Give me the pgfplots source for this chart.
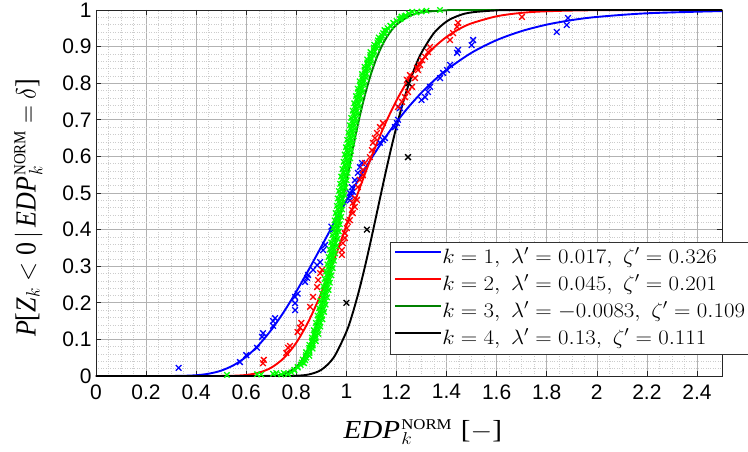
\documentclass[border=0pt]{standalone}
\usepackage{graphicx}
\usepackage{fontspec}
\usepackage{pgfplots}
\pgfplotsset{compat=1.18}
\newfontfamily\ticksf{Liberation Sans}
\newfontfamily\tms{Liberation Serif}
\newcommand{\sNORM}{\mbox{\tms\fontsize{15}{15}\selectfont NORM}}
\definecolor{dgreen}{rgb}{0,0.5,0}
\definecolor{lgreen}{rgb}{0,1,0}
\begin{document}
\begin{tikzpicture}
\begin{axis}[
  at={(96pt,76pt)}, anchor=south west,
  scale only axis, width=626pt, height=366pt,
  xmin=0, xmax=2.5, ymin=0, ymax=1,
  xtick={0,0.2,0.4,0.6,0.8,1,1.2,1.4,1.6,1.8,2,2.2,2.4},
  ytick={0,0.1,0.2,0.3,0.4,0.5,0.6,0.7,0.8,0.9,1},
  minor x tick num=3, minor y tick num=4,
  grid=both,
  major grid style={gray!60, line width=0.6pt},
  minor grid style={gray!40, dotted, line width=0.5pt},
  tick align=inside, major tick length=5pt, minor tick length=0pt,
  tick style={black!85, line width=0.6pt},
  axis line style={black!85, line width=0.9pt},
  /pgf/number format/assume math mode=true,
  /pgf/number format/fixed,
  tick label style={font=\fontsize{21}{22}\ticksf},
  xticklabel style={yshift=-5pt},
  yticklabel style={xshift=-1pt},
  clip=false,
  xlabel={\scalebox{1.12}[1]{\tms\textit{EDP}\kern1pt$^{\sNORM}_{k}$\hspace{0.3em}[$-$]}},
  ylabel={\scalebox{1}[1.12]{\tms\textit{P}[\textit{Z}$_{k}$ $<$ 0\,$|$\,\textit{EDP}\kern1pt$^{\sNORM}_{k}$ $=$ $\delta$]}},
  label style={font=\fontsize{26}{28}\selectfont},
  xlabel style={at={(axis description cs:0.522,-0.152)}, anchor=center},
  ylabel style={at={(axis description cs:-0.108,0.459)}, anchor=center},
  legend style={at={(0.4696,0.3661)}, anchor=north west, draw=black!80, line width=0.8pt, fill=white,
    inner xsep=4pt, inner ysep=2pt, font=\fontsize{21}{25}\selectfont,
    nodes={inner sep=0pt, text height=19pt, text depth=8pt},
    /tikz/every even column/.append style={column sep=5pt}},
  legend cell align=left,
  legend image code/.code={\draw[#1, line width=1.9pt] (0pt,6pt) -- (46pt,6pt);},
]
% ---- scatter (empirical) ----
\addplot[only marks, mark=x, mark size=4pt, color=blue, mark options={line width=1.3pt}, forget plot] coordinates {
(0.33,0.022)(0.575,0.038)(0.60,0.057)(0.643,0.077)(0.663,0.107)(0.667,0.117)(0.707,0.137)(0.707,0.15)(0.715,0.158)
(0.795,0.18)(0.795,0.199)(0.795,0.216)(0.805,0.225)(0.835,0.257)(0.843,0.268)(0.847,0.276)(0.867,0.29)(0.883,0.303)
(0.895,0.311)(0.907,0.344)(0.915,0.358)(0.94,0.408)(0.947,0.40)(1.014,0.48)(1.022,0.494)(1.026,0.503)(1.014,0.5)
(1.022,0.516)(1.034,0.535)(1.046,0.555)(1.054,0.571)(1.062,0.582)(1.134,0.637)(1.146,0.645)(1.154,0.65)(1.194,0.68)
(1.202,0.691)(1.206,0.70)(1.214,0.732)(1.30,0.754)(1.314,0.762)(1.326,0.776)(1.334,0.79)(1.374,0.814)(1.386,0.828)
(1.402,0.836)(1.414,0.85)(1.442,0.883)(1.446,0.891)(1.50,0.904)(1.506,0.918)(1.84,0.94)(1.88,0.959)(1.885,0.978)
};
\addplot[only marks, mark=x, mark size=4pt, color=red, mark options={line width=1.3pt}, forget plot] coordinates {
(0.667,0.035)(0.67,0.044)(0.76,0.063)(0.767,0.077)(0.775,0.082)(0.805,0.12)(0.815,0.132)(0.82,0.145)(0.855,0.189)(0.867,0.216)
(0.883,0.243)(0.887,0.262)(0.895,0.281)(0.903,0.29)(0.982,0.331)(0.982,0.344)(0.986,0.363)(0.994,0.377)(0.994,0.39)
(1.002,0.404)(1.006,0.421)(1.014,0.426)(1.022,0.454)(1.026,0.445)(1.026,0.473)(1.034,0.462)(1.034,0.486)(1.042,0.481)
(1.046,0.516)(1.054,0.536)(1.066,0.549)(1.066,0.563)(1.074,0.582)(1.094,0.598)(1.102,0.617)(1.106,0.637)(1.114,0.65)
(1.122,0.664)(1.134,0.68)(1.146,0.691)(1.206,0.735)(1.222,0.749)(1.234,0.762)(1.246,0.776)(1.262,0.79)(1.242,0.809)
(1.274,0.814)(1.254,0.822)(1.286,0.836)(1.282,0.842)(1.294,0.85)(1.302,0.863)(1.314,0.872)(1.326,0.885)(1.334,0.899)
(1.414,0.918)(1.426,0.937)(1.442,0.954)(1.446,0.965)(1.701,0.981)
};
\addplot[only marks, mark=x, mark size=3.8pt, color=lgreen, mark options={line width=1.3pt}, forget plot] coordinates {
(0.523,0.003)(0.643,0.005)(0.66,0.004)(0.707,0.006)(0.72,0.008)(0.74,0.004)(0.75,0.008)
(0.767,0.005)(0.780,0.010)(0.793,0.015)
(0.805,0.025)(0.818,0.03)(0.831,0.035)
(0.826,0.045)(0.839,0.05)(0.852,0.055)
(0.839,0.065)(0.852,0.07)(0.865,0.075)
(0.852,0.085)(0.865,0.09)(0.878,0.095)
(0.862,0.105)(0.875,0.11)(0.888,0.115)
(0.870,0.125)(0.883,0.13)(0.896,0.135)
(0.878,0.145)(0.891,0.15)(0.904,0.155)
(0.885,0.165)(0.898,0.17)(0.911,0.175)
(0.891,0.185)(0.904,0.19)(0.917,0.195)
(0.897,0.205)(0.910,0.21)(0.923,0.215)
(0.903,0.225)(0.916,0.23)(0.929,0.235)
(0.908,0.245)(0.921,0.25)(0.934,0.255)
(0.914,0.265)(0.927,0.27)(0.940,0.275)
(0.919,0.285)(0.932,0.29)(0.945,0.295)
(0.924,0.305)(0.937,0.31)(0.950,0.315)
(0.929,0.325)(0.942,0.33)(0.955,0.335)
(0.934,0.345)(0.947,0.35)(0.960,0.355)
(0.939,0.365)(0.952,0.37)(0.965,0.375)
(0.944,0.385)(0.957,0.39)(0.970,0.395)
(0.948,0.405)(0.961,0.41)(0.974,0.415)
(0.953,0.425)(0.966,0.43)(0.979,0.435)
(0.957,0.445)(0.970,0.45)(0.983,0.455)
(0.962,0.465)(0.975,0.47)(0.988,0.475)
(0.966,0.485)(0.979,0.49)(0.992,0.495)
(0.970,0.505)(0.983,0.51)(0.996,0.515)
(0.975,0.525)(0.988,0.53)(1.001,0.535)
(0.979,0.545)(0.992,0.55)(1.005,0.555)
(0.984,0.565)(0.997,0.57)(1.010,0.575)
(0.989,0.585)(1.002,0.59)(1.015,0.595)
(0.993,0.605)(1.006,0.61)(1.019,0.615)
(0.998,0.625)(1.011,0.63)(1.024,0.635)
(1.003,0.645)(1.016,0.65)(1.029,0.655)
(1.008,0.665)(1.021,0.67)(1.034,0.675)
(1.014,0.685)(1.027,0.69)(1.040,0.695)
(1.019,0.705)(1.032,0.71)(1.045,0.715)
(1.025,0.725)(1.038,0.73)(1.051,0.735)
(1.031,0.745)(1.044,0.75)(1.057,0.755)
(1.038,0.765)(1.051,0.77)(1.064,0.775)
(1.045,0.785)(1.058,0.79)(1.071,0.795)
(1.053,0.805)(1.066,0.81)(1.079,0.815)
(1.062,0.825)(1.075,0.83)(1.088,0.835)
(1.072,0.845)(1.085,0.85)(1.098,0.855)
(1.083,0.865)(1.096,0.87)(1.109,0.875)
(1.096,0.885)(1.109,0.89)(1.122,0.895)
(1.111,0.905)(1.124,0.91)(1.137,0.915)
(1.129,0.925)(1.142,0.93)(1.155,0.935)
(1.152,0.945)(1.165,0.95)(1.178,0.955)
(1.187,0.965)(1.200,0.97)(1.213,0.975)
(1.237,0.985)(1.250,0.99)(1.263,0.995)
(1.22,0.982)(1.28,0.993)(1.30,0.996)(1.32,0.998)(1.374,1.0)
(0.792,0.017)(0.806,0.023)(0.8215,0.037)(0.8355,0.043)(0.8385,0.057)(0.8525,0.063)(0.8515,0.077)(0.8655,0.083)
(0.863,0.097)(0.877,0.103)(0.872,0.117)(0.886,0.123)(0.880,0.137)(0.894,0.143)(0.8875,0.157)(0.9015,0.163)
(0.894,0.177)(0.908,0.183)(0.900,0.197)(0.914,0.203)(0.906,0.217)(0.920,0.223)(0.9115,0.237)(0.9255,0.243)
(0.917,0.257)(0.931,0.263)(0.9225,0.277)(0.9365,0.283)(0.9275,0.297)(0.9415,0.303)(0.9325,0.317)(0.9465,0.323)
(0.9375,0.337)(0.9515,0.343)(0.9425,0.357)(0.9565,0.363)(0.9475,0.377)(0.9615,0.383)(0.952,0.397)(0.966,0.403)
(0.9565,0.417)(0.9705,0.423)(0.961,0.437)(0.975,0.443)(0.9655,0.457)(0.9795,0.463)(0.970,0.477)(0.984,0.483)
(0.974,0.497)(0.988,0.503)(0.9785,0.517)(0.9925,0.523)(0.983,0.537)(0.997,0.543)(0.9875,0.557)(1.0015,0.563)
(0.9925,0.577)(1.0065,0.583)(0.997,0.597)(1.011,0.603)(1.0015,0.617)(1.0155,0.623)(1.0065,0.637)(1.0205,0.643)
(1.0115,0.657)(1.0255,0.663)(1.017,0.677)(1.031,0.683)(1.0225,0.697)(1.0365,0.703)(1.028,0.717)(1.042,0.723)
(1.034,0.737)(1.048,0.743)(1.0405,0.757)(1.0545,0.763)(1.0475,0.777)(1.0615,0.783)(1.055,0.797)(1.069,0.803)
(1.0635,0.817)(1.0775,0.823)(1.073,0.837)(1.087,0.843)(1.0835,0.857)(1.0975,0.863)(1.0955,0.877)(1.1095,0.883)
(1.1095,0.897)(1.1235,0.903)(1.126,0.917)(1.140,0.923)(1.1465,0.937)(1.1605,0.943)(1.1755,0.957)(1.1895,0.963)
(1.218,0.977)(1.232,0.983)
};
\addplot[only marks, mark=x, mark size=4pt, color=black, mark options={line width=1.3pt}, forget plot] coordinates {
(1.0,0.2)(1.082,0.4)(1.246,0.598)(1.248,0.80)
};
% ---- fitted lognormal CDFs ----
\addplot[blue, line width=1.9pt, smooth, no marks] coordinates {
(0,0)(0.3,0.0001)(0.35,0.00053)(0.4,0.0021)(0.45,0.0062)(0.5,0.0147)(0.55,0.0297)(0.6,0.0527)(0.65,0.0848)
(0.7,0.1259)(0.75,0.1750)(0.8,0.2307)(0.85,0.2910)(0.9,0.3537)(0.95,0.4170)(1.0,0.4792)(1.05,0.5388)(1.1,0.5949)
(1.15,0.6468)(1.2,0.6940)(1.25,0.7364)(1.3,0.7742)(1.35,0.8074)(1.4,0.8365)(1.5,0.8833)(1.6,0.9177)(1.7,0.9424)
(1.8,0.9600)(1.9,0.9724)(2.0,0.9810)(2.2,0.9910)(2.5,0.9971)
};
\addlegendentry{\scalebox{1.1}[1]{$k=1,\ \lambda'=0.017,\ \zeta'=0.326$}}
\addplot[red, line width=1.9pt, smooth, no marks] coordinates {
(0,0)(0.45,0)(0.5,0.00012)(0.55,0.0007)(0.6,0.00285)(0.65,0.0090)(0.7,0.0228)(0.75,0.0490)(0.8,0.0911)
(0.85,0.1510)(0.9,0.2271)(0.95,0.3159)(1.0,0.4114)(1.05,0.5075)(1.1,0.5988)(1.15,0.6814)(1.2,0.7527)(1.25,0.8122)
(1.3,0.8603)(1.35,0.8978)(1.4,0.9265)(1.45,0.9479)(1.5,0.9636)(1.6,0.9828)(1.7,0.9922)(1.8,0.9965)(2.0,0.9994)(2.5,1.0)
};
\addlegendentry{\scalebox{1.1}[1]{$k=2,\ \lambda'=0.045,\ \zeta'=0.201$}}
\addplot[dgreen, line width=1.9pt, smooth, no marks] coordinates {
(0,0)(0.6,0)(0.65,0.00005)(0.7,0.0007)(0.75,0.0052)(0.8,0.0244)(0.825,0.0456)(0.85,0.0786)(0.875,0.1253)
(0.9,0.1865)(0.925,0.2611)(0.95,0.3466)(0.975,0.4380)(1.0,0.5303)(1.025,0.6190)(1.05,0.6998)(1.075,0.7702)
(1.1,0.8291)(1.125,0.8764)(1.15,0.9129)(1.175,0.9401)(1.2,0.9598)(1.25,0.9831)(1.3,0.9935)(1.4,0.9992)(1.5,0.9999)(2.5,1.0)
};
\addlegendentry{\scalebox{1.1}[1]{$k=3,\ \lambda'=-0.0083,\ \zeta'=0.109$}}
\addplot[black, line width=1.9pt, smooth, no marks] coordinates {
(0,0)(0.7,0)(0.75,0.0001)(0.8,0.0007)(0.85,0.0042)(0.9,0.0170)(0.95,0.0512)(1.0,0.1208)(1.025,0.1714)
(1.05,0.2322)(1.075,0.3016)(1.1,0.3773)(1.125,0.4562)(1.15,0.5352)(1.175,0.6110)(1.2,0.6813)(1.225,0.7443)
(1.25,0.7992)(1.275,0.8455)(1.3,0.8835)(1.35,0.9373)(1.4,0.9686)(1.45,0.9852)(1.5,0.9935)(1.6,0.9989)(1.7,0.99985)(2.5,1.0)
};
\addlegendentry{\scalebox{1.1}[1]{$k=4,\ \lambda'=0.13,\ \zeta'=0.111$}}
\end{axis}
\pgfresetboundingbox
\useasboundingbox (0,0) rectangle (748pt,452pt);
\end{tikzpicture}
\end{document}
